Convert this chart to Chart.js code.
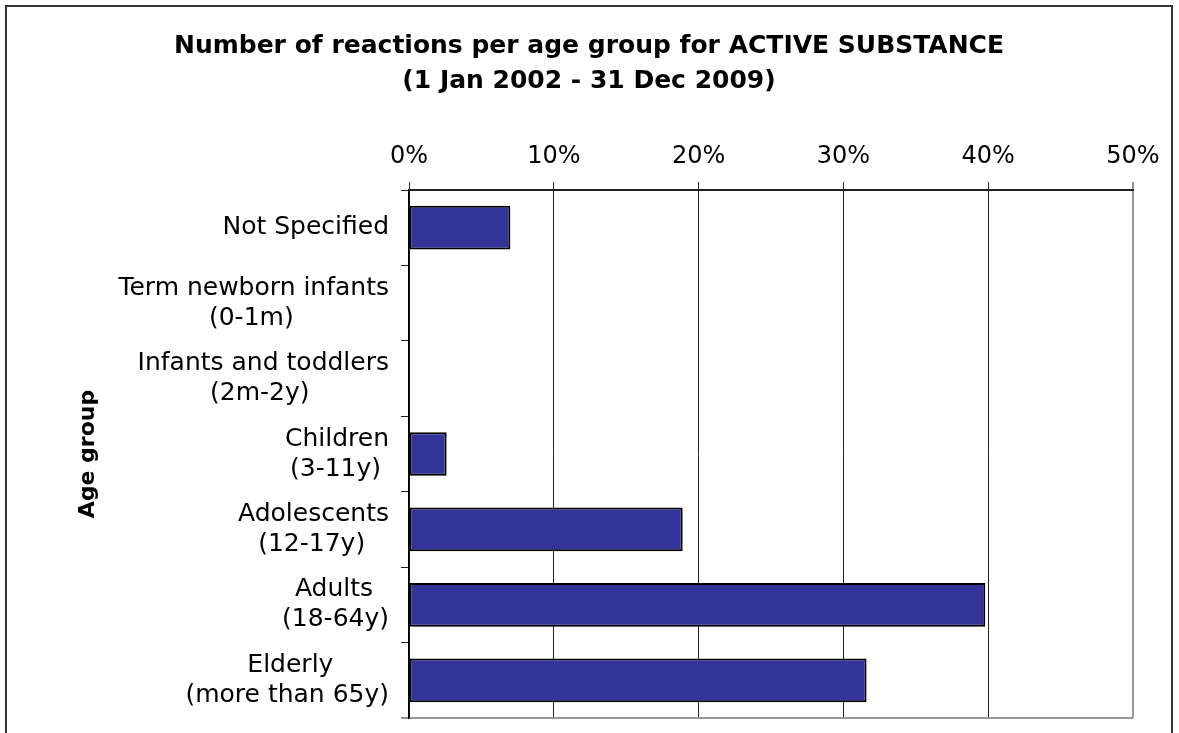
<!DOCTYPE html>
<html>
<head>
<meta charset="utf-8">
<script src="https://cdn.jsdelivr.net/npm/chart.js@4"></script>
<style>
  html, body { margin: 0; padding: 0; background: #fff; overflow: hidden; }
  #frame { position: absolute; left: 5px; top: 5px; width: 1168px; height: 800px; border: 2px solid #333; box-sizing: border-box; }
  canvas { display: block; }
</style>
</head>
<body>
<div id="frame"><canvas id="chart" width="1164" height="796"></canvas></div>
<script>
const ageGroups = [
  ['Not Specified'],
  ['Term newborn infants', '(0-1m)'],
  ['Infants and toddlers', '(2m-2y)'],
  ['Children', '(3-11y)'],
  ['Adolescents', '(12-17y)'],
  ['Adults', '(18-64y)'],
  ['Elderly', '(more than 65y)']
];
const reactionShare = [7.0, 0, 0, 2.6, 18.9, 39.8, 31.6];
const shareTicks = [0, 10, 20, 30, 40, 50];
const titleLines = ['Number of reactions per age group for ACTIVE SUBSTANCE', '(1 Jan 2002 - 31 Dec 2009)'];

const FAMILY = "'DejaVu Sans', Verdana, sans-serif";
Chart.defaults.font.family = FAMILY;
Chart.defaults.color = '#000';

// Labels are right-aligned by the axis; pad shorter lines with trailing
// spaces so each label's lines sit centred under each other.
function centreLines(lines) {
  const ctx = document.createElement('canvas').getContext('2d');
  ctx.font = '25px ' + FAMILY;
  const space = ctx.measureText(' ').width;
  const widest = Math.max(...lines.map(l => ctx.measureText(l).width));
  return lines.map(l => l + ' '.repeat(Math.round((widest - ctx.measureText(l).width) / 2 / space)));
}

const lastTick = shareTicks[shareTicks.length - 1];

new Chart(document.getElementById('chart'), {
  type: 'bar',
  data: {
    labels: ageGroups.map(centreLines),
    datasets: [{
      data: reactionShare,
      backgroundColor: '#333399',
      borderColor: '#000',
      borderWidth: 2,
      borderSkipped: false,
      barPercentage: 0.58,
      categoryPercentage: 1
    }]
  },
  options: {
    indexAxis: 'y',
    responsive: false,
    animation: false,
    // Equal side padding keeps the title centred on the frame.
    layout: { padding: { top: 0, right: 38, bottom: 85, left: 38 } },
    plugins: {
      legend: { display: false },
      tooltip: { enabled: false },
      title: {
        display: true,
        text: titleLines,
        color: '#000',
        font: { size: 25, weight: 'bold', lineHeight: 1.4 },
        padding: { top: 22, bottom: 0 }
      }
    },
    scales: {
      x: {
        position: 'top',
        min: shareTicks[0],
        max: lastTick,
        afterFit: s => { s.height = 91; },
        ticks: {
          stepSize: shareTicks[1] - shareTicks[0],
          padding: 11,
          font: { size: 24 },
          color: '#000',
          callback: v => v + '%'
        },
        grid: {
          color: c => (c.tick && c.tick.value === lastTick) ? '#999' : '#222',
          lineWidth: c => (c.tick && c.tick.value === lastTick) ? 2 : 1,
          tickColor: '#222',
          tickWidth: 1,
          tickLength: 8
        },
        border: { display: true, color: '#222', width: 2 }
      },
      y: {
        afterFit: s => { s.width = 364; },
        ticks: {
          padding: 12,
          font: { size: 25, lineHeight: 1.2 },
          color: '#000'
        },
        grid: {
          // only the bottom edge of the plot gets a (grey) line
          color: c => c.type === 'scale' ? '#999' : 'rgba(0,0,0,0)',
          lineWidth: c => c.type === 'scale' ? 2 : 1,
          tickColor: '#222',
          tickWidth: 1,
          tickLength: 8
        },
        border: { display: true, color: '#000', width: 1.5 },
        title: {
          display: true,
          text: 'Age group',
          color: '#000',
          font: { size: 22, weight: 'bold', lineHeight: 1.2 },
          padding: { top: 30, bottom: 0 }
        }
      }
    }
  }
});
</script>
</body>
</html>
